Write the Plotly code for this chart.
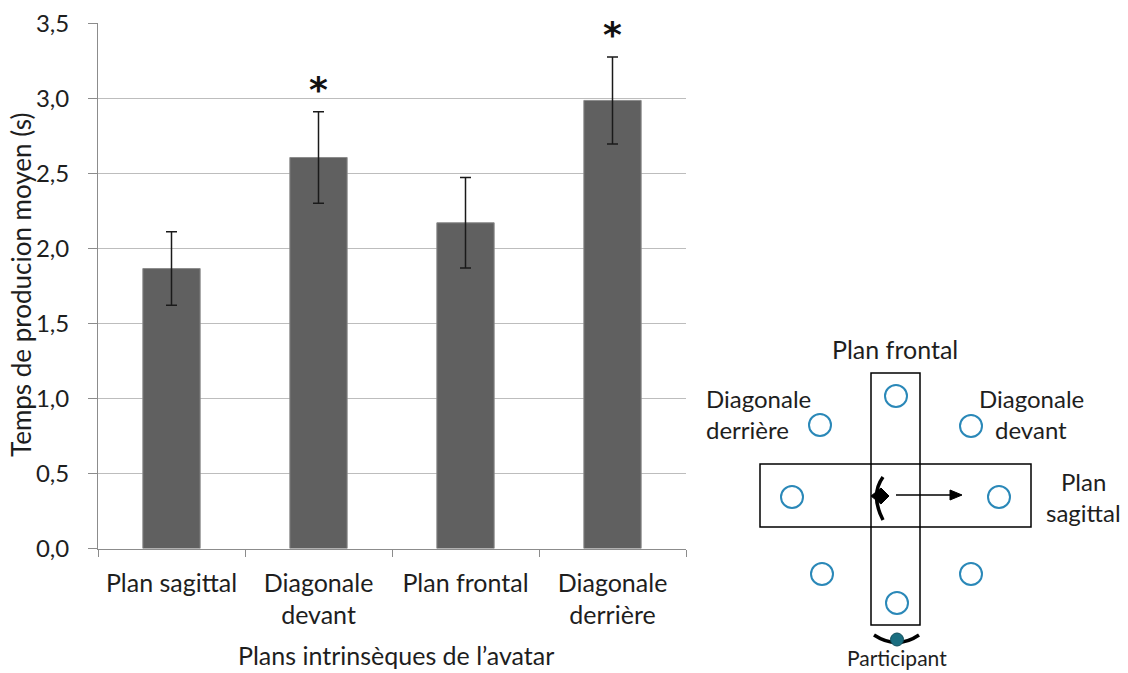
import plotly.graph_objects as go

categories = ["Plan sagittal", "Diagonale<br>devant", "Plan frontal", "Diagonale<br>derrière"]
means = [1.865, 2.605, 2.17, 2.985]
errors = [0.245, 0.305, 0.302, 0.29]
significant = [False, True, False, True]
y_ticks = [0, 0.5, 1.0, 1.5, 2.0, 2.5, 3.0, 3.5]

W, H = 1128, 673
FONT = "Lato"
BAR = "#606060"
CIRC = "#2a88b8"
TXT = "#1e1e1e"
AXC = "#8c8c8c"

fig = go.Figure()
fig.add_trace(go.Bar(
    x=categories, y=means,
    marker=dict(color=BAR, line=dict(color="#8c8c8c", width=1)),
    width=0.39,
    error_y=dict(type="data", array=errors, visible=True, color="#1a1a1a", thickness=1.5, width=5.5),
    showlegend=False, hoverinfo="skip",
))
# invisible trace to anchor the diagram axes
fig.add_trace(go.Scatter(x=[0], y=[0], xaxis="x2", yaxis="y2", mode="markers",
                         marker=dict(opacity=0), showlegend=False, hoverinfo="skip"))


def px_x(v):
    return v / W


def px_y(v):
    return 1 - v / H


fig.update_layout(
    width=W, height=H,
    margin=dict(l=0, r=0, t=0, b=0),
    paper_bgcolor="white", plot_bgcolor="rgba(0,0,0,0)",
    separators=", ",
    font=dict(family=FONT, size=24, color=TXT),
    xaxis=dict(domain=[px_x(98), px_x(686)], showgrid=False, showline=True, linecolor=AXC,
               linewidth=1, ticks="outside", ticklen=7, tickcolor=AXC, tickson="boundaries",
               ticklabelstandoff=12,
               tickfont=dict(size=25, color=TXT), automargin=False, fixedrange=True),
    yaxis=dict(domain=[px_y(548.5), px_y(23)], range=[0, 3.501], tickvals=y_ticks, tickformat=".1f",
               showgrid=True, gridcolor="#bdbdbd", gridwidth=1, showline=True, linecolor=AXC,
               ticks="outside", ticklen=9, tickcolor=AXC, zeroline=False, ticklabelstandoff=14,
               tickfont=dict(size=24, color=TXT), automargin=False, fixedrange=True),
    xaxis2=dict(domain=[0, 1], range=[0, W], visible=False, anchor="y2", fixedrange=True),
    yaxis2=dict(domain=[0, 1], range=[H, 0], visible=False, anchor="x2", fixedrange=True),
    bargap=0.61,
)

annotations = []
# axis titles
annotations.append(dict(text="Temps de producion moyen (s)", xref="paper", yref="paper",
                        x=px_x(21), y=px_y(285), xanchor="center", yanchor="middle",
                        textangle=-90, showarrow=False, font=dict(size=26, color=TXT)))
annotations.append(dict(text="Plans intrinsèques de l’avatar", xref="paper", yref="paper",
                        x=px_x(396), y=px_y(655), xanchor="center", yanchor="middle",
                        showarrow=False, font=dict(size=25, color=TXT)))
# significance stars
for c, m, e, s in zip(categories, means, errors, significant):
    if s:
        annotations.append(dict(text="<b>*</b>", x=c, y=m + e, xref="x", yref="y", yanchor="bottom",
                                showarrow=False, yshift=0,
                                font=dict(family="DejaVu Sans", size=36, color="#111")))


# diagram texts
def t(text, x, y, xanchor="center", size=24):
    annotations.append(dict(text=text, x=x, y=y, xref="x2", yref="y2", showarrow=False,
                            xanchor=xanchor, yanchor="middle", font=dict(size=size, color=TXT),
                            align="left" if xanchor == "left" else "center"))


t("Plan frontal", 895, 349, size=25)
t("Diagonale", 704, 398, "left")
t("derrière", 704, 429, "left")
t("Diagonale", 1031, 398)
t("devant", 1031, 429)
t("Plan", 1083, 481)
t("sagittal", 1083, 512)
t("Participant", 897, 657, size=21)
fig.update_layout(annotations=annotations)

shapes = []
shapes.append(dict(type="rect", xref="x2", yref="y2", x0=871, x1=920, y0=373, y1=625,
                   line=dict(color="black", width=1.5)))
shapes.append(dict(type="rect", xref="x2", yref="y2", x0=760, x1=1031, y0=464, y1=527,
                   line=dict(color="black", width=1.5)))
circles = [(896, 396), (820, 425), (971, 426), (792, 497), (999, 497), (822, 574), (971, 574), (897, 603)]
for cx, cy in circles:
    shapes.append(dict(type="circle", xref="x2", yref="y2", x0=cx - 11, x1=cx + 11, y0=cy - 11, y1=cy + 11,
                       line=dict(color=CIRC, width=2)))
# arrow
shapes.append(dict(type="line", xref="x2", yref="y2", x0=896, x1=952, y0=495, y1=495,
                   line=dict(color="black", width=1.5)))
shapes.append(dict(type="path", xref="x2", yref="y2", path="M 950 490 L 962 495 L 950 500 Z",
                   fillcolor="black", line=dict(color="black", width=1)))
# avatar (top view)
shapes.append(dict(type="path", xref="x2", yref="y2", path="M 883 477 Q 870 495 883 520",
                   line=dict(color="black", width=3.5)))
shapes.append(dict(type="path", xref="x2", yref="y2", path="M 871 496 L 881 488 L 889 496 L 881 504 Z",
                   fillcolor="black", line=dict(color="black", width=1)))
# participant
shapes.append(dict(type="path", xref="x2", yref="y2", path="M 874 635 Q 897 650 919 635",
                   line=dict(color="black", width=3.5)))
shapes.append(dict(type="circle", xref="x2", yref="y2", x0=890.5, x1=903.5, y0=633, y1=646,
                   fillcolor="#1b6e80", line=dict(color="#0f4d5a", width=1)))
fig.update_layout(shapes=shapes)

fig.write_html("out.html", config={"displayModeBar": False},
               post_script="document.body.style.margin='0';document.body.style.overflow='hidden';")
